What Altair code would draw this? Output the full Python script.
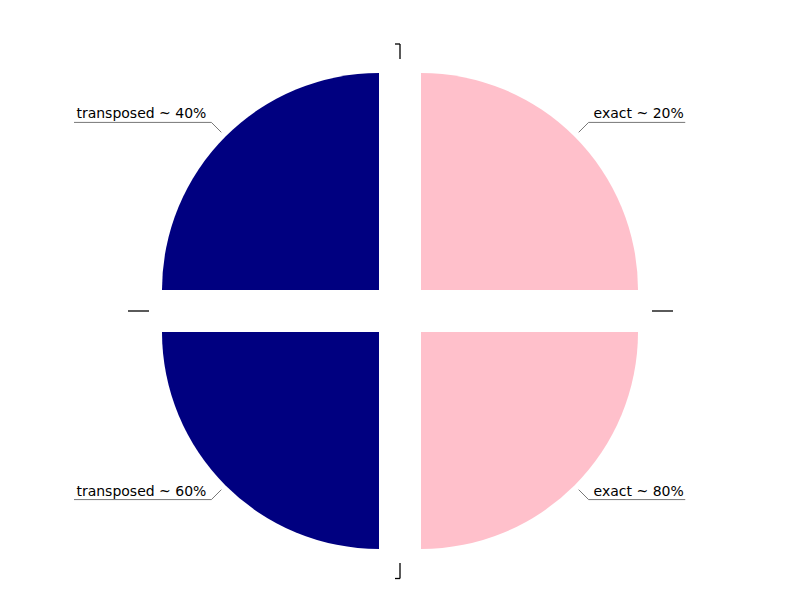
import altair as alt
import pandas as pd
import numpy as np

# ---- data (matplotlib order: counter-clockwise starting at 3 o'clock) ----
labels = ["exact ~ 20%", "transposed ~ 40%", "transposed ~ 60%", "exact ~ 80%"]
groups = ["exact", "transposed", "transposed", "exact"]
shares = [25, 25, 25, 25]
colors = {"exact": "#FFC0CB", "transposed": "#000080"}

# ---- layout constants (pixels) ----
R = 217          # pie radius
EXPLODE = 29.7   # radial explode offset
W, H = 800, 600
CX, CY = 400, 311

total = float(sum(shares))
rows = []
cum = 0.0
for lab, grp, s in zip(labels, groups, shares):
    before, after = cum, cum + s
    cum = after
    quarter = total / 4
    t0 = (quarter - after) % total
    t1 = t0 + s
    mid = (t0 + t1) / 2 / total * 2 * np.pi
    sx, sy = np.sin(mid), np.cos(mid)
    rows.append(dict(label=lab, group=grp, share=s, t0=t0, t1=t1,
                     cx=EXPLODE * sx, cy=EXPLODE * sy, sx=sx, sy=sy))
slices = pd.DataFrame(rows)

# leader lines + text positions
seg_rows, txt_rows = [], []
for r in rows:
    side = 1 if r["sx"] >= 0 else -1
    p0 = (EXPLODE + R + 6)
    k = (EXPLODE + R + 20)
    x0, y0 = p0 * r["sx"], p0 * r["sy"]
    xk, yk = k * r["sx"], k * r["sy"]
    tw = len(r["label"]) * 8.15
    xe = xk + side * (tw + 7)
    seg_rows.append(dict(x=x0, y=y0, x2=xk, y2=yk, kind="lead"))
    seg_rows.append(dict(x=xk, y=yk, x2=xe, y2=yk, kind="lead"))
    txt_rows.append(dict(label=r["label"], x=xk + side * 5, y=yk + 4,
                         side="right" if side > 0 else "left"))

# small frame ticks around the pie
ticks = [(0, 267, 0, 252), (-5, 267, 0, 267),
         (0, -252, 0, -267.5), (-5, -267.5, 0, -267.5),
         (-272, 0, -251, 0), (252, 0, 273, 0)]
for t in ticks:
    seg_rows.append(dict(x=t[0], y=t[1], x2=t[2], y2=t[3], kind="tick"))

segs = pd.DataFrame(seg_rows)
texts = pd.DataFrame(txt_rows)

xs = alt.Scale(domain=[-CX, W - CX], range=[0, W])
ys = alt.Scale(domain=[CY - H, CY], range=[H, 0])

pie = alt.Chart(slices).mark_arc(outerRadius=R, stroke=None).encode(
    theta=alt.Theta("t0:Q", scale=alt.Scale(domain=[0, total], range=[0, 2 * np.pi])),
    theta2="t1:Q",
    x=alt.X("cx:Q", scale=xs, axis=None),
    y=alt.Y("cy:Q", scale=ys, axis=None),
    color=alt.Color("group:N", scale=alt.Scale(domain=list(colors.keys()),
                                              range=list(colors.values())), legend=None),
)

lead = alt.Chart(segs).transform_filter(alt.datum.kind == "lead").mark_rule(
    color="#555555", strokeWidth=0.8).encode(
    x=alt.X("x:Q", scale=xs, axis=None), y=alt.Y("y:Q", scale=ys, axis=None),
    x2="x2:Q", y2="y2:Q")

tk = alt.Chart(segs).transform_filter(alt.datum.kind == "tick").mark_rule(
    color="black", strokeWidth=1.3).encode(
    x=alt.X("x:Q", scale=xs, axis=None), y=alt.Y("y:Q", scale=ys, axis=None),
    x2="x2:Q", y2="y2:Q")

def text_layer(side):
    return alt.Chart(texts).transform_filter(alt.datum.side == side).mark_text(
        align="left" if side == "right" else "right", baseline="alphabetic",
        font="DejaVu Sans", fontSize=14, color="black").encode(
        x=alt.X("x:Q", scale=xs, axis=None), y=alt.Y("y:Q", scale=ys, axis=None),
        text="label:N")

chart = alt.layer(pie, lead, tk, text_layer("right"), text_layer("left")).properties(
    width=W, height=H, padding=0, autosize="none"
).configure_view(stroke=None)

chart.save("out.html", embed_options={"renderer": "svg", "actions": False})
